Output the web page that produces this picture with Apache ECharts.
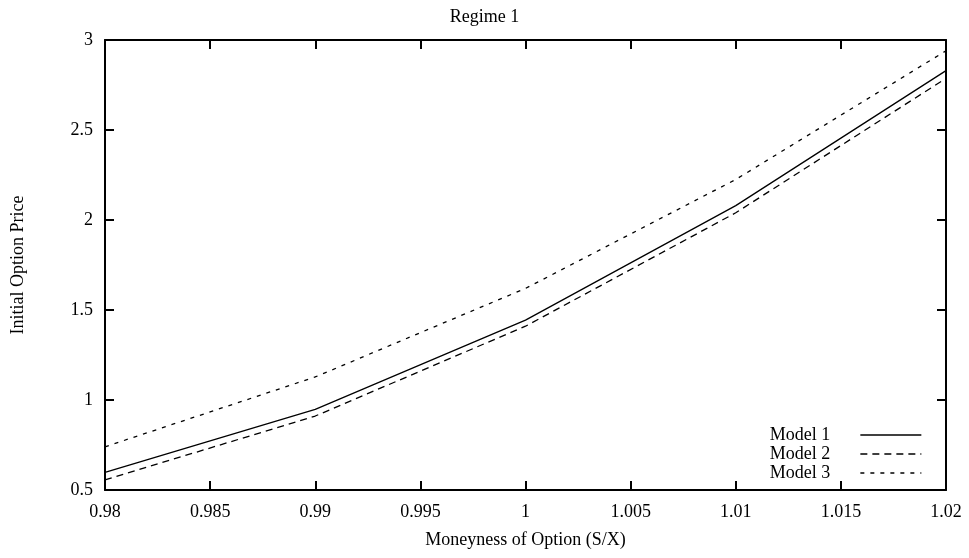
<!DOCTYPE html>
<html><head><meta charset="utf-8">
<script src="https://cdn.jsdelivr.net/npm/echarts@6/dist/echarts.min.js"></script>
<style>html,body{margin:0;padding:0;background:#fff}#c{width:969px;height:558px}</style>
</head><body><div id="c"></div>
<script>
const moneyness = [0.98, 0.99, 1.0, 1.01, 1.02];
const model1 = [0.598, 0.948, 1.444, 2.08, 2.83];
const model2 = [0.556, 0.911, 1.41, 2.04, 2.787];
const model3 = [0.74, 1.128, 1.62, 2.225, 2.94];
const seriesNames = ['Model 1', 'Model 2', 'Model 3'];

const font = 'Liberation Serif';
const chart = echarts.init(document.getElementById('c'));
const pair = arr => moneyness.map((x, i) => [x, arr[i]]);
const axisCommon = {
  axisLine: {show: true, lineStyle: {color: '#000', width: 2}},
  axisTick: {show: true, inside: true, length: 9, lineStyle: {color: '#000', width: 2}},
  splitLine: {show: false}
};
chart.setOption({
  backgroundColor: '#fff',
  animation: false,
  title: {text: 'Regime 1', left: 'center', top: 3, textStyle: {fontFamily: font, fontSize: 18, fontWeight: 'normal', color: '#000'}},
  grid: {left: 105, right: 23, top: 40, bottom: 68},
  legend: {
    right: 42, top: 421, orient: 'vertical', align: 'right', itemGap: 1,
    itemWidth: 61, itemHeight: 14,
    itemStyle: {opacity: 0},
    lineStyle: {width: 1.3},
    textStyle: {fontFamily: font, fontSize: 18, lineHeight: 18, color: '#000', padding: [0, 25, 0, 0]},
    data: seriesNames
  },
  xAxis: [
    Object.assign({type: 'value', min: 0.98, max: 1.02, interval: 0.005,
      name: 'Moneyness of Option (S/X)', nameLocation: 'middle', nameGap: 41,
      nameTextStyle: {fontFamily: font, fontSize: 18, color: '#000'},
      axisLabel: {fontFamily: font, fontSize: 18, color: '#000', margin: 13, formatter: v => String(+v.toFixed(3))}}, axisCommon),
    Object.assign({type: 'value', position: 'top', min: 0.98, max: 1.02, interval: 0.005, axisLabel: {show: false}}, axisCommon)
  ],
  yAxis: [
    Object.assign({type: 'value', min: 0.5, max: 3, interval: 0.5,
      name: 'Initial Option Price', nameLocation: 'middle', nameGap: 78, nameRotate: 90,
      nameTextStyle: {fontFamily: font, fontSize: 18, color: '#000'},
      axisLabel: {fontFamily: font, fontSize: 18, color: '#000', margin: 12, formatter: v => String(+v.toFixed(1))}}, axisCommon),
    Object.assign({type: 'value', position: 'right', min: 0.5, max: 3, interval: 0.5, axisLabel: {show: false}}, axisCommon)
  ],
  series: [
    {name: seriesNames[0], type: 'line', data: pair(model1), symbol: 'none', lineStyle: {color: '#000', width: 1.3, type: 'solid'}, itemStyle: {color: '#000'}},
    {name: seriesNames[1], type: 'line', data: pair(model2), symbol: 'none', lineStyle: {color: '#000', width: 1.3, type: [7, 5]}, itemStyle: {color: '#000'}},
    {name: seriesNames[2], type: 'line', data: pair(model3), symbol: 'none', lineStyle: {color: '#000', width: 1.3, type: [4, 6]}, itemStyle: {color: '#000'}}
  ]
});
</script></body></html>
